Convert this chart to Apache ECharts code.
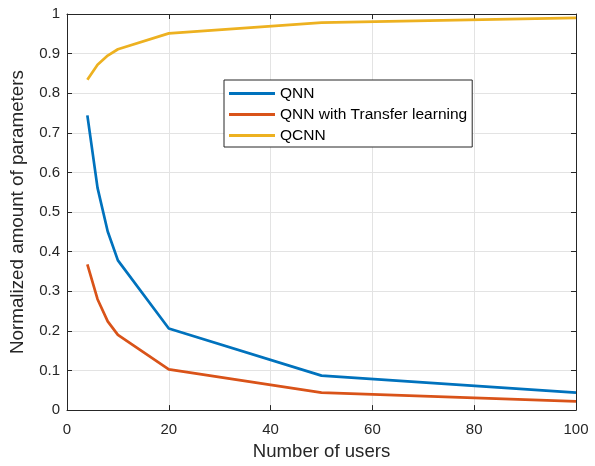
<!DOCTYPE html>
<html>
<head>
<meta charset="utf-8">
<script src="https://cdn.jsdelivr.net/npm/echarts@6/dist/echarts.min.js"></script>
<style>
  html, body { margin: 0; padding: 0; background: #fff; }
  #chart { width: 595px; height: 466px; }
</style>
</head>
<body>
<div id="chart"></div>
<script>
// Number of users on the horizontal axis
const users = [4, 6, 8, 10, 20, 50, 100];
// Normalized parameter counts per model
const qnn = [0.744, 0.561, 0.451, 0.378, 0.206, 0.087, 0.044];
const qnnTransfer = [0.368, 0.280, 0.224, 0.190, 0.103, 0.044, 0.022];
const qcnn = [0.834, 0.872, 0.895, 0.911, 0.951, 0.978, 0.990];
const seriesNames = ['QNN', 'QNN with Transfer learning', 'QCNN'];
const xTicks = [0, 20, 40, 60, 80, 100];
const yTicks = [0, 0.1, 0.2, 0.3, 0.4, 0.5, 0.6, 0.7, 0.8, 0.9, 1];

const colors = ['#0072BD', '#D95319', '#EDB120'];
const font = '"Liberation Sans", Arial, sans-serif';
const axisColor = '#262626';

function pairs(ys) { return users.map((u, i) => [u, ys[i]]); }

const chart = echarts.init(document.getElementById('chart'), null, { renderer: 'canvas' });

const baseAxis = {
  axisLine: { show: true, onZero: false, lineStyle: { color: axisColor, width: 1 } },
  axisTick: { show: true, inside: true, length: 5, lineStyle: { color: axisColor } },
};

chart.setOption({
  animation: false,
  color: colors,
  grid: { left: 65, right: 19, top: 14, bottom: 50, containLabel: false },
  legend: {
    orient: 'vertical',
    left: 224,
    top: 80,
    data: seriesNames,
    icon: 'rect',
    itemWidth: 46,
    itemHeight: 3,
    itemGap: 4,
    padding: [5, 5, 3, 5],
    backgroundColor: '#fff',
    borderColor: axisColor,
    borderWidth: 1,
    borderRadius: 0,
    textStyle: { fontFamily: font, fontSize: 15.5, lineHeight: 17, color: '#000' },
  },
  xAxis: [
    Object.assign({}, baseAxis, {
      type: 'value', min: xTicks[0], max: xTicks[xTicks.length - 1], interval: 20,
      position: 'bottom',
      name: 'Number of users', nameLocation: 'middle', nameGap: 31,
      nameTextStyle: { fontFamily: font, fontSize: 18.6, color: axisColor },
      axisLabel: { fontFamily: font, fontSize: 15, color: axisColor, margin: 12 },
      splitLine: { show: true, lineStyle: { color: '#e3e3e3', width: 1 } },
    }),
    Object.assign({}, baseAxis, {
      type: 'value', min: 0, max: 100, interval: 20, position: 'top',
      axisLabel: { show: false }, splitLine: { show: false },
    }),
  ],
  yAxis: [
    Object.assign({}, baseAxis, {
      type: 'value', min: yTicks[0], max: yTicks[yTicks.length - 1], interval: 0.1,
      position: 'left',
      name: 'Normalized amount of parameters', nameLocation: 'middle', nameGap: 40,
      nameTextStyle: { fontFamily: font, fontSize: 18.8, color: axisColor },
      axisLabel: {
        fontFamily: font, fontSize: 15, color: axisColor, margin: 7,
        formatter: v => String(Math.round(v * 10) / 10),
      },
      splitLine: { show: true, lineStyle: { color: '#e3e3e3', width: 1 } },
    }),
    Object.assign({}, baseAxis, {
      type: 'value', min: 0, max: 1, interval: 0.1, position: 'right',
      axisLabel: { show: false }, splitLine: { show: false },
    }),
  ],
  series: [qnn, qnnTransfer, qcnn].map((ys, i) => ({
    name: seriesNames[i],
    type: 'line',
    data: pairs(ys),
    showSymbol: false,
    symbol: 'none',
    lineStyle: { width: 2.7, color: colors[i] },
    itemStyle: { color: colors[i] },
    z: 3,
  })),
});
</script>
</body>
</html>
